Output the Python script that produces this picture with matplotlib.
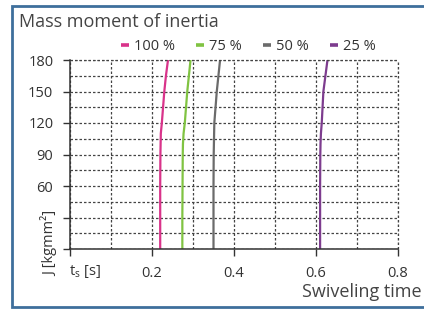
import matplotlib
matplotlib.use("Agg")
import matplotlib.pyplot as plt
from matplotlib.lines import Line2D

plt.rcParams['font.family'] = ['Open Sans', 'DejaVu Sans']

J = [0, 30, 60, 90, 100, 110, 120, 135, 150, 165, 180]
t100 = [0.220, 0.220, 0.220, 0.2205, 0.221, 0.2215, 0.224, 0.227, 0.230, 0.234, 0.239]
t75 = [0.274, 0.274, 0.2745, 0.275, 0.2755, 0.277, 0.280, 0.283, 0.286, 0.290, 0.294]
t50 = [0.350, 0.350, 0.350, 0.3505, 0.351, 0.3515, 0.352, 0.355, 0.358, 0.362, 0.366]
t25 = [0.610, 0.610, 0.610, 0.6105, 0.611, 0.612, 0.614, 0.616, 0.618, 0.623, 0.628]
labels = ["100 %", "75 %", "50 %", "25 %"]
colors = ["#d9338a", "#80c342", "#6b6b6b", "#7d3c8e"]
xticks = [0, 0.2, 0.4, 0.6, 0.8]
xticklabels = ["", "0.2", "0.4", "0.6", "0.8"]
yticks = [0, 30, 60, 90, 120, 150, 180]
yticklabels = ["", "", "60", "90", "120", "150", "180"]

fig = plt.figure(figsize=(4.24, 3.09), dpi=100)
ax = fig.add_axes([70/424, 1-249/309, 328/424, 189/309])

for t, lab, c in zip([t100, t75, t50, t25], labels, colors):
    ax.plot(t, J, color=c, lw=1.6, label=lab, solid_capstyle='butt')

ax.set_xlim(0, 0.8)
ax.set_ylim(0, 180)
ax.set_xticks(xticks)
ax.set_xticklabels(xticklabels)
ax.set_yticks(yticks)
ax.set_yticklabels(yticklabels)
ax.set_xticks([0.1, 0.3, 0.5, 0.7], minor=True)
ax.set_yticks(list(range(15, 180, 30)), minor=True)
ax.tick_params(which='minor', length=0)
ax.tick_params(which='major', direction='out', length=5, width=1, color='#333333',
               labelsize=10.5, labelcolor='#333333', pad=7)
ax.grid(which='both', color='#444444', linestyle=(0, (2, 1.6)), linewidth=0.9)
for s in ['top', 'right']:
    ax.spines[s].set_visible(False)
for s in ['left', 'bottom']:
    ax.spines[s].set_color('#333333')
    ax.spines[s].set_linewidth(1.1)
ax.axhline(180, color='#444444', linestyle=(0, (2, 1.6)), linewidth=0.9, clip_on=False)
ax.axvline(0.8, color='#444444', linestyle=(0, (2, 1.6)), linewidth=0.9, clip_on=False)

leg = ax.legend(loc='lower left', bbox_to_anchor=(121/424, 1-54/309), bbox_transform=fig.transFigure,
                ncol=4, frameon=False, handlelength=0.55, handletextpad=0.35, columnspacing=1.45,
                fontsize=10.5, borderaxespad=0, borderpad=0)
for h in leg.legend_handles:
    h.set_linewidth(2.6)
for tx in leg.get_texts():
    tx.set_color('#333333')

fig.text(19/424, 1-22/309, "Mass moment of inertia", fontsize=13, color='#444444', va='center', ha='left')
fig.text(50/424, 1-243/309, "J [kgmm²]", rotation=90, fontsize=10.5, color='#333333', va='center', ha='center')
fig.text(69/424, 1-271/309, r"t$_\mathregular{s}$ [s]", fontsize=10.5, color='#333333', va='center', ha='left')
fig.text(422/424, 1-292/309, "Swiveling time", fontsize=13, color='#444444', va='center', ha='right')

bx0, by0, by1 = 11.5/424, 1-307/309, 1-6/309
fig.lines.append(Line2D([1.05, bx0, bx0, 1.05], [by1, by1, by0, by0], transform=fig.transFigure,
                        color='#3e6f9c', linewidth=2, solid_joinstyle='miter'))

fig.savefig("out.png", dpi=100)
